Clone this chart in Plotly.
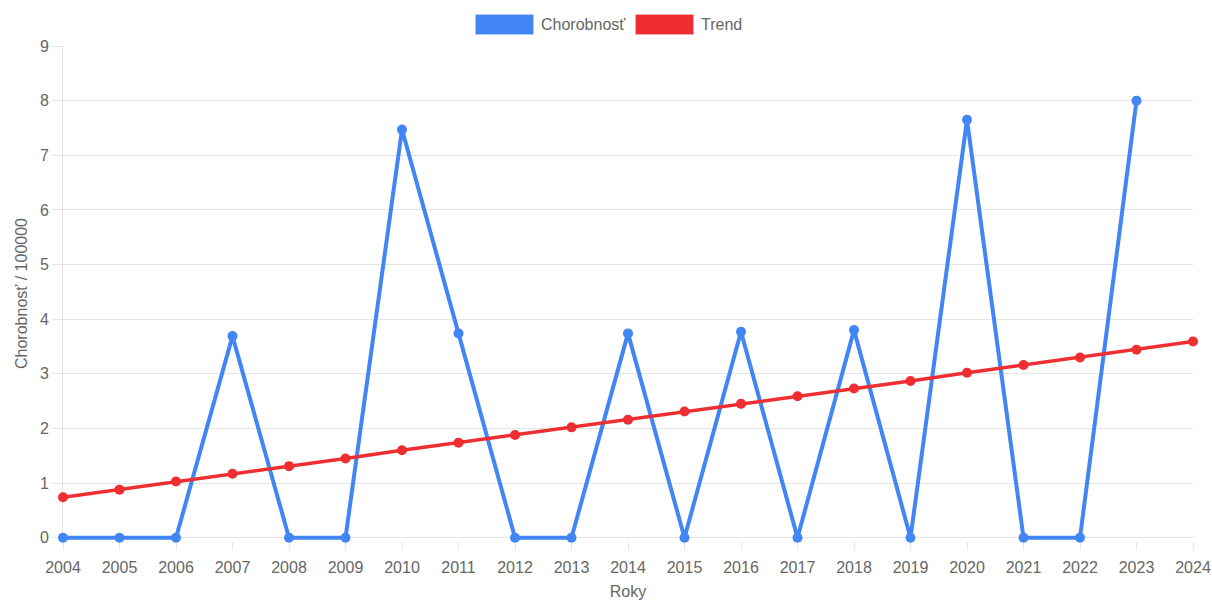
import plotly.graph_objects as go

years = [2004, 2005, 2006, 2007, 2008, 2009, 2010, 2011, 2012, 2013,
         2014, 2015, 2016, 2017, 2018, 2019, 2020, 2021, 2022, 2023]
chorobnost = [0, 0, 0, 3.69, 0, 0, 7.47, 3.74, 0, 0,
              3.74, 0, 3.77, 0, 3.80, 0, 7.65, 0, 0, 8.0]

trend_years = [2004, 2005, 2006, 2007, 2008, 2009, 2010, 2011, 2012, 2013, 2014,
               2015, 2016, 2017, 2018, 2019, 2020, 2021, 2022, 2023, 2024]
trend = [0.74, 0.88, 1.03, 1.17, 1.31, 1.45, 1.60, 1.74, 1.88, 2.02, 2.16,
         2.31, 2.45, 2.59, 2.73, 2.87, 3.02, 3.16, 3.30, 3.44, 3.59]

BLUE = "#4285f4"
RED = "#ee2e31"
GRID = "#e5e5e5"
TEXT = "#666666"
FONT = "Liberation Sans, Arial, sans-serif"

fig = go.Figure()
fig.add_trace(go.Scatter(
    x=years, y=chorobnost, mode="lines+markers", name="Chorobnosť",
    line=dict(color=BLUE, width=4), marker=dict(color=BLUE, size=10),
    cliponaxis=False, showlegend=False))
fig.add_trace(go.Scatter(
    x=trend_years, y=trend, mode="lines+markers", name="Trend",
    line=dict(color=RED, width=3.5), marker=dict(color=RED, size=10),
    cliponaxis=False, showlegend=False))

# Plot area; the y range dips slightly below zero so the zero-level line is not cut
Y_LOW = -0.06
L, R, T = 63, 19, 46
ZERO_PX = 538
PX_PER_UNIT = (ZERO_PX - T) / 9
B = 600 - ZERO_PX - (0 - Y_LOW) * PX_PER_UNIT
W, H = 1212 - L - R, 600 - T - B


def px(xp):
    return (xp - L) / W


def py(yp):
    return (600 - B - yp) / H


legend_items = [("Chorobnosť", BLUE, "rgba(66,133,244,0.55)", 476),
                ("Trend", RED, "rgba(238,46,49,0.55)", 636)]
shapes = []
annotations = []
for label, fill, border, x0 in legend_items:
    shapes.append(dict(type="rect", xref="paper", yref="paper",
                       x0=px(x0), x1=px(x0 + 57), y0=py(34), y1=py(15),
                       fillcolor=fill, line=dict(color=border, width=1.5)))
    annotations.append(dict(text=label, xref="paper", yref="paper",
                            x=px(x0 + 63), y=py(24), xanchor="left", yanchor="middle",
                            showarrow=False, font=dict(size=16, color=TEXT, family=FONT)))

fig.update_layout(
    width=1212, height=600,
    margin=dict(l=L, r=R, t=T, b=B, autoexpand=False),
    paper_bgcolor="white", plot_bgcolor="white",
    font=dict(family=FONT, size=16, color=TEXT),
    shapes=shapes, annotations=annotations,
    xaxis=dict(
        range=[2004, 2024], tickmode="array", tickvals=trend_years,
        ticktext=[str(y) for y in trend_years],
        showgrid=False, zeroline=False, showline=False, automargin=False,
        ticks="outside", ticklen=8, tickcolor=GRID,
        ticklabelstandoff=4,
        tickfont=dict(size=16, color=TEXT),
        title=dict(text="Roky", font=dict(size=16, color=TEXT), standoff=14),
        layer="below traces",
    ),
    yaxis=dict(
        range=[Y_LOW, 9], tickmode="array", tickvals=list(range(10)),
        showgrid=True, gridcolor=GRID, gridwidth=1,
        zeroline=True, zerolinecolor=GRID, zerolinewidth=1,
        showline=True, linecolor=GRID, linewidth=1, automargin=False,
        ticks="outside", ticklen=10, tickcolor=GRID,
        tickfont=dict(size=16, color=TEXT),
        title=dict(text="Chorobnosť / 100000", font=dict(size=16, color=TEXT), standoff=8),
        layer="below traces",
    ),
)

fig.write_html("out.html")
